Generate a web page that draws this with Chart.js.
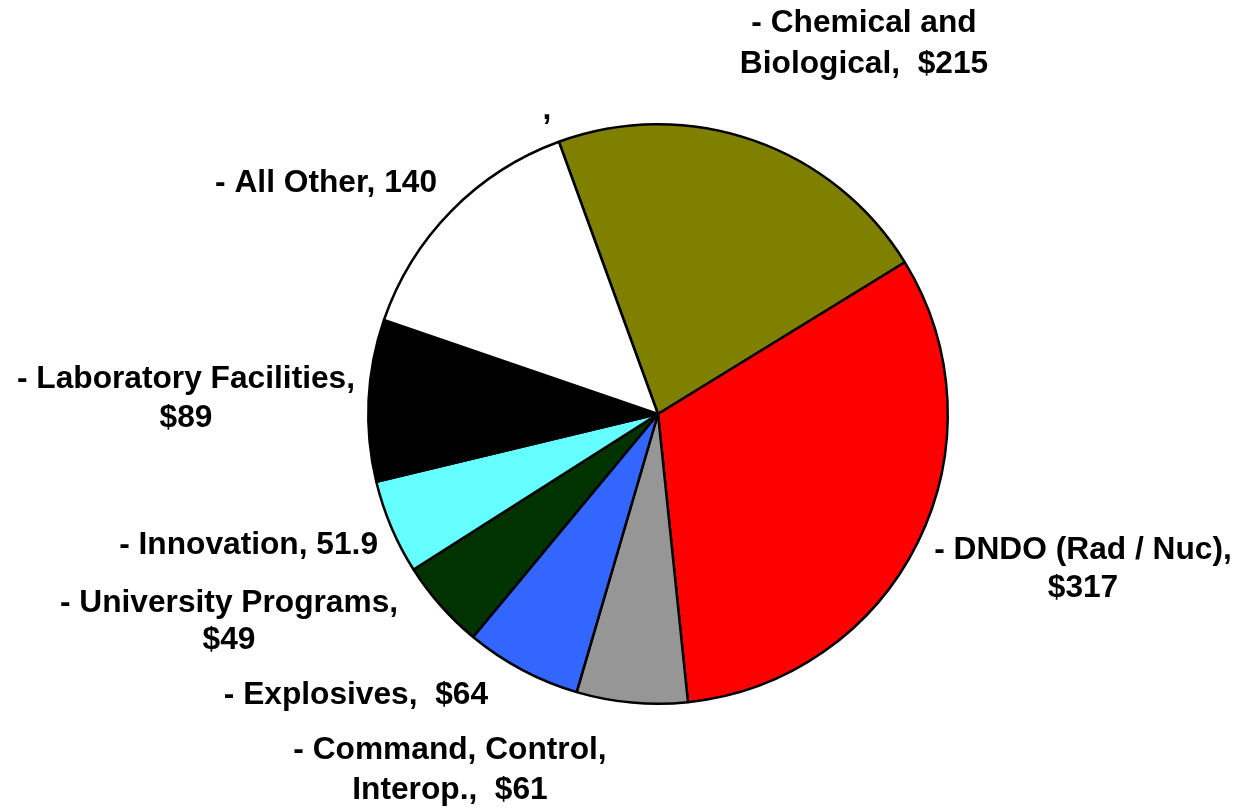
<!DOCTYPE html>
<html>
<head>
<meta charset="utf-8">
<script src="https://cdn.jsdelivr.net/npm/chart.js@4/dist/chart.umd.min.js"></script>
<style>
  html, body { margin: 0; padding: 0; background: #fff; }
  #wrap { width: 1234px; height: 808px; }
</style>
</head>
<body>
<div id="wrap"><canvas id="pie" width="1234" height="808"></canvas></div>
<script>
// S&T budget split, $M
const categories = ['Chemical and Biological', 'DNDO (Rad / Nuc)', 'Command, Control, Interop.',
  'Explosives', 'University Programs', 'Innovation', 'Laboratory Facilities', 'All Other'];
const values = [215, 317, 61, 64, 49, 51.9, 89, 140];
const colors = ['#808000', '#FF0000', '#969696', '#3366FF', '#003300', '#66FFFF', '#000000', '#FFFFFF'];

// text shown next to each slice, as on the slide
const labelLines = [
  ['- Chemical and', 'Biological,  $215'],
  ['- DNDO (Rad / Nuc),', '$317'],
  ['- Command, Control,', 'Interop.,  $61'],
  ['- Explosives,  $64'],
  ['- University Programs,', '$49'],
  ['- Innovation, 51.9'],
  ['- Laboratory Facilities,', '$89'],
  ['- All Other, 140']
];

// where each label sits (x, top line y, alignment, line gap)
const labelPos = [
  { x: 864, y: 23, align: 'center', gap: 41 },
  { x: 1083, y: 550, align: 'center', gap: 38 },
  { x: 450, y: 750, align: 'center', gap: 40 },
  { x: 488, y: 695, align: 'right' },
  { x: 229, y: 603, align: 'center', gap: 37 },
  { x: 378, y: 545, align: 'right' },
  { x: 186, y: 379, align: 'center', gap: 39 },
  { x: 437, y: 183, align: 'right' }
];

const sliceLabels = {
  id: 'sliceLabels',
  afterDraw(chart) {
    const ctx = chart.ctx;
    ctx.save();
    ctx.fillStyle = '#000';
    ctx.font = 'bold 31.7px "Liberation Sans", Arial, sans-serif';
    ctx.textBaseline = 'middle';
    labelLines.forEach((lines, i) => {
      const p = labelPos[i];
      ctx.textAlign = p.align;
      lines.forEach((t, j) => ctx.fillText(t, p.x, p.y + j * (p.gap || 39)));
    });
    // stray comma left over on the original slide
    ctx.textAlign = 'center';
    ctx.fillText(',', 547, 110);
    ctx.restore();
  }
};

new Chart(document.getElementById('pie'), {
  type: 'pie',
  data: {
    labels: categories,
    datasets: [{
      data: values,
      backgroundColor: colors,
      borderColor: '#000',
      borderWidth: 2.5
    }]
  },
  options: {
    responsive: false,
    animation: false,
    rotation: -20,
    layout: { padding: { left: 367, right: 285, top: 123, bottom: 103 } },
    plugins: {
      legend: { display: false },
      tooltip: { enabled: false }
    }
  },
  plugins: [sliceLabels]
});
</script>
</body>
</html>
